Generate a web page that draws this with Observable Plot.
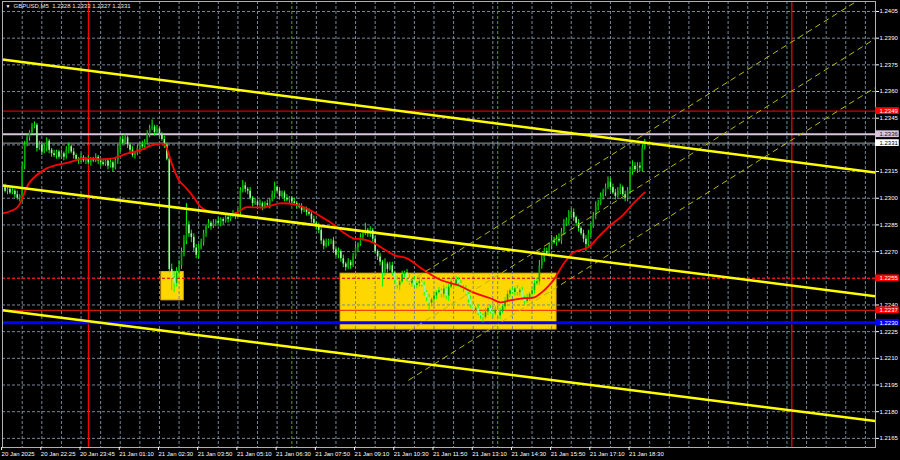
<!DOCTYPE html>
<html><head><meta charset="utf-8">
<script src="https://cdn.jsdelivr.net/npm/d3@7"></script>
<script src="https://cdn.jsdelivr.net/npm/@observablehq/plot@0.6"></script>
<style>
html,body{margin:0;padding:0;background:#000;}
#chart{width:900px;height:460px;overflow:hidden;}
svg{display:block}
</style></head><body><div id="chart"></div>
<script>
// ---------- data ----------
const symbolTitle = "GBPUSD,M5  1.2328 1.2333 1.2327 1.2331";
const base = 1.22;              // prices below are pips above 1.2200
const firstOpen = 106;
const closePips = [
106,104,105,103,104,102,100,101,118,130,
134,137,140,141,128,130,126,128,132,127,
125,124,126,123,125,123,127,129,126,124,
122,121,123,121,122,120,122,121,123,121,
120,119,121,118,120,117,121,128,133,131,
134,130,127,124,125,128,130,129,131,136,
139,140,137,139,136,133,130,122,60,55,
52,58,62,70,76,85,80,78,72,68,
72,75,80,84,86,84,86,87,86,88,
87,89,88,90,91,90,92,104,107,105,
104,100,97,98,96,97,95,97,96,99,
102,106,104,101,103,100,99,100,98,97,
96,95,93,94,92,91,88,86,84,82,
76,73,75,76,76,71,68,70,66,63,
61,64,62,67,72,74,78,80,82,80,
82,77,70,67,64,58,63,60,62,58,
54,51,53,57,58,55,52,54,51,52,
53,51,47,44,41,43,45,47,48,46,
49,45,50,53,51,54,52,50,49,46,
43,40,37,38,35,34,33,36,38,36,
35,37,34,36,39,42,46,48,47,49,
47,48,44,42,44,46,48,52,53,62,
66,70,69,73,76,75,77,76,81,85,
87,90,92,89,86,83,80,77,74,80,
84,90,95,97,101,103,106,109,106,103,
101,104,106,102,100,104,115,118,116,118,
117,128,131];
const highWick = [
1,2,1,1,2,1,2,1,2,2, 2,1,2,2,1,2,1,2,2,1, 1,2,1,1,2,1,2,2,1,2, 1,1,2,1,1,2,1,1,2,1,
1,2,1,1,2,1,2,2,1,2, 2,1,1,2,1,2,1,2,2,2, 2,4,1,2,1,1,2,1,1,3, 4,3,3,2,3,12,2,2,2,2,
2,2,2,1,2,1,2,1,2,1, 1,2,1,1,2,1,2,2,3,2, 1,2,1,2,1,2,1,1,2,1, 2,3,1,2,1,1,2,1,1,2,
1,1,2,1,1,2,1,2,1,2, 2,1,2,1,1,2,1,2,1,2, 1,2,1,2,2,1,2,2,4,1, 2,1,2,1,2,1,3,1,2,2,
1,2,1,2,1,2,2,1,2,1, 2,1,2,1,2,1,2,1,2,1, 2,1,2,2,1,2,1,2,1,2, 1,2,1,1,2,1,1,2,1,2,
1,2,1,2,1,2,2,1,2,1, 2,1,2,1,2,1,2,2,2,3, 3,2,2,2,3,2,2,3,2,3, 2,3,2,2,1,2,1,2,2,2,
2,2,3,2,2,2,2,3,2,2, 2,2,2,1,2,2,2,3,2,2, 2,2,2];
const lowWick = [
2,1,2,1,1,2,1,2,3,2, 1,2,1,1,2,1,2,1,2,2, 2,1,2,1,1,2,1,2,1,2, 1,2,1,1,2,1,2,1,1,2,
2,1,1,2,1,2,1,2,2,1, 1,2,2,1,2,1,2,1,2,1, 2,1,2,1,2,1,2,1,2,7, 5,2,3,2,3,2,2,3,2,2,
2,1,2,2,1,2,1,2,1,2, 2,1,2,1,1,2,1,2,1,2, 2,1,2,1,2,1,2,1,1,2, 1,2,1,2,1,2,1,2,2,1,
2,1,2,1,2,1,2,1,2,2, 2,2,1,2,2,2,1,2,2,2, 2,1,2,1,1,2,1,2,1,2, 2,2,1,2,2,8,2,2,1,2,
2,2,3,1,2,2,1,2,1,2, 2,1,2,2,5,2,1,2,1,2, 2,2,3,1,2,1,2,1,2,1, 2,2,1,2,1,2,3,1,2,1,
2,1,2,2,1,2,1,2,1,2, 2,2,1,2,1,2,1,2,1,2, 2,2,1,2,2,1,2,1,2,2, 1,2,1,2,2,2,1,2,4,2,
2,1,2,2,1,2,2,1,2,1, 2,1,2,1,2,2,1,2,1,2, 2,2,1];
// red moving average, read at selected bars
const maBar  = [0,6,11,18,27,33,40,45,51,56,62,66,67,69,72,75,78,81,85,89,93,96,99,102,107,113,119,123,127,131,135,139,143,147,151,155,160,165,172,179,186,192,199,203,207,213,217,221,225,229,233,239,243,248,253,257,262];
const maPips = [91.5,94.9,108.9,116.8,120.2,122.4,121.9,122.4,125.2,126.9,130.3,130.3,128,119.6,110,105.6,100.5,94.9,92.1,91.5,91,92.1,94.9,94.9,94.9,97.1,96.6,94.9,92.1,88.7,85.3,80.8,77.5,76.9,75.2,71.9,67.9,66.2,59.5,53.9,51.1,47.1,43.8,41.5,42.6,43.8,44.3,48.3,54.4,63.4,69.6,72.4,78.1,84.8,90.4,96.6,103.3];
// axis
const priceTicks = [1.2165,1.2180,1.2195,1.2210,1.2225,1.2240,1.2255,1.2270,1.2285,1.2300,1.2315,1.2330,1.2345,1.2360,1.2375,1.2390,1.2405];
const timeLabels = ["20 Jan 2025","20 Jan 22:25","20 Jan 23:45","21 Jan 01:10","21 Jan 02:30","21 Jan 03:50","21 Jan 05:10","21 Jan 06:30","21 Jan 07:50","21 Jan 09:10","21 Jan 10:30","21 Jan 11:50","21 Jan 13:10","21 Jan 14:30","21 Jan 15:50","21 Jan 17:10","21 Jan 18:30"];
const barsPerLabel = 16, barsPerGrid = 8;
// horizontal levels
const levelPrices = [1.2349, 1.2336, 1.2331, 1.2255, 1.2237, 1.2230];
const levelNames  = ["resistance","lavender","bid","dashed","support","blue"];
// vertical markers (bar index)
const daySeparators = [35, 322];
const sessionMarks = [118, 202];
// yellow rectangles
const boxStart = [64.8, 137.9], boxEnd = [73.9, 226.0];
const boxTop = [1.22585, 1.22576], boxBottom = [1.22426, 1.22262];
// falling trend lines (price at left and right edge)
const trendLeft  = [1.23780, 1.23072, 1.22370];
const trendRight = [1.23145, 1.22449, 1.21747];
// rising dashed channel
const chanStartBar = 165.6;
const chanStart = [1.21977, 1.22252, 1.22528];
const chanEnd   = [1.23623, 1.23898, 1.24174];

// ---------- build ----------
const xMin = -0.04, xMax = 356.13;
const yMin = 1.215987, yMax = 1.241062;
const P = v => base + v / 1e4;

const bars = closePips.map((c, i) => {
  const o = i === 0 ? firstOpen : closePips[i - 1];
  return {i, open: P(o), close: P(c), high: P(Math.max(o, c) + highWick[i]), low: P(Math.min(o, c) - lowWick[i]), up: c >= o};
});
const ma = maBar.map((b, k) => ({b, p: P(maPips[k])}));
const boxes = boxStart.map((s, k) => ({x1: s, x2: boxEnd[k], y1: boxBottom[k], y2: boxTop[k]}));
const trends = trendLeft.map((l, k) => ({x1: xMin, y1: l, x2: xMax, y2: trendRight[k]}));
const chans = chanStart.map((s, k) => ({x1: chanStartBar, y1: s, x2: xMax, y2: chanEnd[k]}));
const levels = levelPrices.map((p, k) => ({p, name: levelNames[k]}));
const lvlStyle = {
  resistance: {line: "#ff0000", w: 1, dash: null, bg: "#ff0000", fg: "#ffffff"},
  lavender:   {line: "#d8c4dc", w: 2, dash: null, bg: "#d8c4dc", fg: "#202020"},
  bid:        {line: "#9aa0a0", w: 1, dash: null, bg: "#ffffff", fg: "#000000"},
  dashed:     {line: "#ff0000", w: 1, dash: "3,2", bg: "#ff0000", fg: "#ffffff"},
  support:    {line: "#ff1a00", w: 1, dash: null, bg: "#ff0000", fg: "#ffffff"},
  blue:       {line: "#0000ff", w: 3, dash: null, bg: "#0000ff", fg: "#ffffff"}
};
const gridBars = d3.range(barsPerGrid, xMax, barsPerGrid);
const labelBars = timeLabels.map((t, k) => k * barsPerLabel);
const labelW = 9.7, labelH = 0.00019;
// the terminal hides a scale label that would sit under a level's price box
const shownTicks = priceTicks.filter(t => levelPrices.every(p => Math.abs(p - t) > 0.00025));

const levelRules = levels.map(l => Plot.ruleY([l.p], {stroke: lvlStyle[l.name].line, strokeWidth: lvlStyle[l.name].w, strokeDasharray: lvlStyle[l.name].dash}));

const chart = Plot.plot({
  width: 900, height: 460,
  marginLeft: 2, marginRight: 25, marginTop: 1, marginBottom: 13,
  style: {background: "#000", color: "#ffffff", fontFamily: "'Liberation Sans', Arial, sans-serif", fontSize: "6px", overflow: "visible"},
  x: {domain: [xMin, xMax]},
  y: {domain: [yMin, yMax]},
  marks: [
    Plot.rect(boxes, {x1: "x1", x2: "x2", y1: "y1", y2: "y2", fill: "#ffd700", stroke: "#e8b400", strokeWidth: 1}),
    Plot.ruleY(priceTicks, {stroke: "#778899", strokeDasharray: "3,2", strokeWidth: 1}),
    Plot.ruleX(gridBars, {stroke: "#778899", strokeDasharray: "3,2", strokeWidth: 1}),
    Plot.ruleX(daySeparators, {stroke: "#ff0000", strokeWidth: 1.2}),
    Plot.ruleX(sessionMarks, {stroke: "#5f9e1e", strokeDasharray: "3,2", strokeWidth: 1}),
    ...levelRules,
    Plot.ruleX(bars, {x: "i", y1: "low", y2: "high", stroke: "#00ff00", strokeWidth: 1}),
    Plot.ruleX(bars, {x: "i", y1: "open", y2: "close", stroke: d => d.up ? "#00a800" : "#a8f0a8", strokeWidth: 1.6}),
    Plot.line(ma, {x: "b", y: "p", stroke: "#ff0000", strokeWidth: 1.8, curve: "catmull-rom"}),
    Plot.link(chans, {x1: "x1", y1: "y1", x2: "x2", y2: "y2", stroke: "#b8b800", strokeWidth: 1, strokeDasharray: "6,4", clip: true}),
    Plot.link(trends, {x1: "x1", y1: "y1", x2: "x2", y2: "y2", stroke: "#ffff00", strokeWidth: 2.5, clip: true}),
    Plot.frame({stroke: "#b0b0b0"}),
    Plot.axisY({anchor: "right", ticks: shownTicks, tickFormat: d => d.toFixed(4), tickSize: 3, tickPadding: 1, fontSize: 6}),
    Plot.axisX({anchor: "bottom", ticks: labelBars, tickFormat: d => timeLabels[Math.round(d / barsPerLabel)], tickSize: 3, tickPadding: 1, textAnchor: "start", dx: -1, fontSize: 6}),
    Plot.rect(levels, {x1: () => xMax, x2: () => xMax + labelW, y1: d => d.p - labelH, y2: d => d.p + labelH, fill: d => lvlStyle[d.name].bg}),
    Plot.text(levels, {x: () => xMax, y: "p", text: d => d.p.toFixed(4), dx: 4, textAnchor: "start", fill: d => lvlStyle[d.name].fg, fontSize: 6}),
    Plot.text(["\u25BC"], {frameAnchor: "top-left", dx: 3, dy: 3, fontSize: 5, fill: "#ffffff"}),
    Plot.text([symbolTitle], {frameAnchor: "top-left", dx: 11, dy: 2, fontSize: 6, fill: "#e8e8e8"})
  ]
});
document.getElementById("chart").appendChild(chart);
</script>
</body></html>
